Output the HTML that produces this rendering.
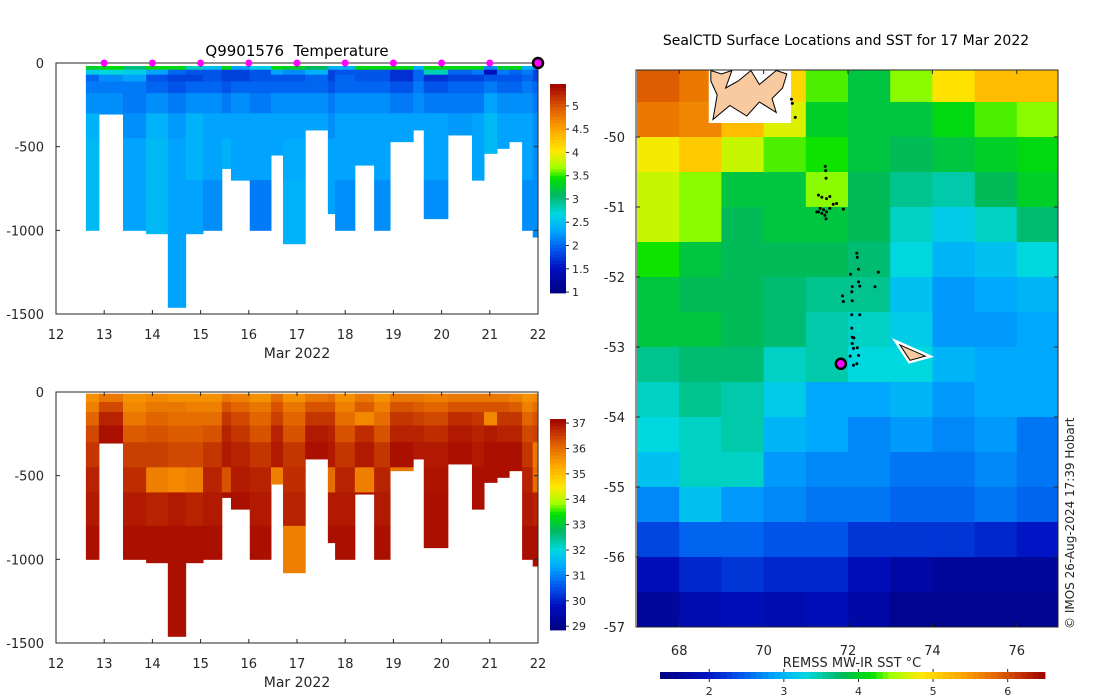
<!DOCTYPE html>
<html><head><meta charset="utf-8"><style>
html,body{margin:0;padding:0;background:#fff;}
svg{display:block;font-family:"DejaVu Sans","Liberation Sans",sans-serif;}
</style></head><body>
<svg id="fig" width="1100" height="700" viewBox="0 0 1100 700" xmlns="http://www.w3.org/2000/svg">
<defs>
<clipPath id="mapclip"><rect x="636" y="70" width="422" height="557"/></clipPath>
</defs>
<g id="topg"></g>
<g id="botg"></g>
<g id="mapg"></g>
<text x="297" y="56" font-size="15" text-anchor="middle">Q9901576&#160;&#160;Temperature</text>
<text x="297" y="358" font-size="14" text-anchor="middle" fill="#262626">Mar 2022</text>
<text x="297" y="687" font-size="14" text-anchor="middle" fill="#262626">Mar 2022</text>
<text x="846" y="45" font-size="14" text-anchor="middle">SealCTD Surface Locations and SST for 17 Mar 2022</text>
<text x="852" y="667" font-size="13" text-anchor="middle" fill="#262626">REMSS MW-IR SST °C</text>
<text transform="translate(1074,629) rotate(-90)" font-size="12" fill="#262626">© IMOS 26-Aug-2024 17:39 Hobart</text>
</svg>
<script>
// ---- profile data ----
const colEdges = [12.62,12.89,13.39,13.87,14.32,14.69,15.05,15.44,15.63,16.02,16.46,16.71,17.17,17.64,17.79,18.20,18.60,18.93,19.41,19.63,20.13,20.63,20.88,21.15,21.40,21.67,21.89,22.00];
const maxDepth = [1000,305,1000,1020,1460,1020,1000,630,700,1000,550,1080,400,900,1000,610,1000,470,400,930,430,700,540,510,470,1000,1040];
const tempLayers = [18,40,70,110,180,300,450,700];
const tempVals = [
[3.3,2.6,2.0,2.1,2.2,2.4,2.45,2.45],[3.4,2.7,2.2,2.1,2.2,2.2,2.3,2.3],[3.0,2.6,2.3,2.1,2.1,2.2,2.3,2.3],
[3.4,2.3,1.9,2.0,2.2,2.4,2.45,2.45],[3.4,2.0,1.8,1.9,2.1,2.25,2.3,2.3],[2.8,1.9,1.8,2.0,2.2,2.4,2.4,2.3],
[2.5,1.9,1.9,2.0,2.2,2.3,2.3,2.2],[3.4,1.8,1.8,1.9,2.1,2.3,2.4,2.4],[2.3,1.8,1.8,2.0,2.2,2.3,2.3,2.3],
[2.6,1.9,1.9,2.0,2.1,2.3,2.3,2.1],[3.4,2.3,1.9,2.0,2.2,2.3,2.3,2.3],[3.3,2.2,1.9,2.0,2.2,2.3,2.35,2.4],
[3.1,2.4,2.0,2.0,2.2,2.3,2.3,2.3],[2.4,1.8,1.8,1.9,2.1,2.2,2.3,2.3],[2.4,1.9,2.0,2.0,2.2,2.3,2.3,2.2],
[3.4,1.9,1.9,2.0,2.2,2.3,2.3,2.3],[3.4,1.9,1.9,2.0,2.2,2.3,2.3,2.2],[3.4,1.7,1.7,1.9,2.1,2.3,2.3,2.3],
[2.4,2.0,2.0,2.1,2.2,2.3,2.3,2.3],[3.4,2.8,1.7,1.9,2.1,2.3,2.3,2.2],[3.4,2.0,1.8,2.0,2.1,2.25,2.3,2.3],
[3.4,2.1,1.8,2.0,2.1,2.3,2.3,2.3],[2.2,1.5,1.9,2.1,2.3,2.45,2.45,2.45],[3.3,2.1,1.9,2.0,2.2,2.3,2.3,2.3],
[3.4,2.0,1.9,2.0,2.2,2.3,2.3,2.3],[2.4,2.1,2.0,2.1,2.2,2.3,2.3,2.2],[2.2,1.8,1.8,2.0,2.1,2.2,2.2,2.2]];
const salLayers = [10,60,120,200,300,450,600,800];
const salVals = [
[35.6,35.8,36.1,36.4,36.6,36.8,36.9,37.0],[35.9,36.4,36.8,37.0,37,37,37,37],[35.6,35.7,35.9,36.2,36.5,36.7,36.9,37.0],
[35.7,35.9,36.1,36.3,36.5,35.8,36.8,37.0],[35.6,35.9,36.0,36.2,36.4,35.7,36.9,37.0],[35.6,35.8,36.0,36.2,36.4,35.8,36.8,37.0],
[35.6,35.8,36.0,36.3,36.6,36.8,36.9,37.0],[35.9,36.3,36.6,36.8,36.9,36.3,37,37],[35.8,36.1,36.4,36.6,36.8,36.9,37.0,37.0],
[35.6,35.9,36.1,36.3,36.6,36.8,36.9,37.0],[36.0,36.3,36.5,36.8,36.9,35.8,37,37],[35.6,35.9,36.1,36.3,36.6,36.7,36.8,35.8],
[35.9,36.3,36.6,36.9,37,37,37,37],[36.0,36.3,36.6,36.8,36.9,36.0,36.9,37],[35.6,35.8,36.0,36.3,36.6,36.8,36.9,37.0],
[35.9,36.2,35.7,36.7,36.9,35.8,37,37],[35.6,35.8,36.0,36.3,36.6,36.8,36.9,37.0],[35.9,36.3,36.6,36.8,37,35.9,37,37],
[35.9,36.2,36.5,36.8,36.9,37,37,37],[35.8,36.1,36.4,36.7,36.9,36.95,37,37],[35.9,36.3,36.7,36.9,37,37,37,37],
[35.9,36.3,36.6,36.8,36.9,37,37,37],[35.9,36.3,35.7,36.9,37,37,37,37],[35.9,36.3,36.6,36.8,37,37,37,37],
[35.8,36.2,36.6,36.8,37,37,37,37],[35.6,35.8,36.1,36.4,36.6,36.8,36.9,37.0],[35.7,36.0,36.3,36.5,35.9,36.0,36.8,37.0]];
const surfaceDays = [13,14,15,16,17,18,19,20,21];
const xTicks = [12,13,14,15,16,17,18,19,20,21,22];
const yTicks = [0,-500,-1000,-1500];
const tempCbTicks = [1,1.5,2,2.5,3,3.5,4,4.5,5];
const salCbTicks = [29,30,31,32,33,34,35,36,37];
// ---- map data ----
const sstGrid = [
[5.9,5.7,5.3,5.0,4.3,3.9,4.4,4.9,5.2,5.2],
[5.7,5.6,5.2,4.7,4.0,3.9,3.9,4.1,4.3,4.4],
[4.8,5.1,4.6,4.3,4.2,3.9,3.8,3.9,4.0,4.1],
[4.6,4.4,3.9,3.9,4.4,3.8,3.6,3.5,3.8,4.0],
[4.6,4.4,3.8,3.9,3.9,3.8,3.4,3.2,3.4,3.7],
[4.2,3.9,3.8,3.8,3.8,3.7,3.3,3.0,3.1,3.3],
[3.9,3.8,3.8,3.7,3.6,3.6,3.1,2.8,2.9,3.0],
[3.9,3.9,3.8,3.7,3.5,3.4,3.2,2.8,2.8,2.9],
[3.6,3.7,3.7,3.4,3.5,3.3,3.3,3.0,2.9,2.9],
[3.4,3.6,3.5,3.2,2.9,2.9,3.0,2.8,2.9,2.9],
[3.3,3.4,3.5,3.0,2.9,2.7,2.8,2.7,2.8,2.6],
[3.1,3.4,3.4,2.8,2.7,2.7,2.6,2.6,2.7,2.6],
[2.7,3.1,2.8,2.7,2.6,2.6,2.5,2.5,2.6,2.5],
[2.3,2.5,2.5,2.4,2.4,2.2,2.2,2.2,2.1,2.0],
[1.9,2.1,2.2,2.1,2.1,1.9,1.7,1.6,1.6,1.6],
[1.6,1.8,1.9,1.8,1.9,1.7,1.5,1.5,1.5,1.5]];
const gridLon0 = 67, gridLat0 = -49, gridStepLon = 1, gridStepLat = 0.5;
const trackLon = [70.66,70.68,70.75,71.46,71.47,71.48,71.30,71.38,71.49,71.57,71.65,71.73,71.34,71.42,71.49,71.57,71.30,71.38,71.45,71.48,71.26,71.89,72.21,72.22,72.25,72.72,72.06,72.25,72.28,72.10,72.64,72.09,71.87,71.89,72.10,72.09,72.28,72.09,72.10,72.14,72.10,72.13,72.22,72.05,72.25,72.21,72.13];
const trackLat = [-49.46,-49.52,-49.72,-50.42,-50.48,-50.59,-50.83,-50.86,-50.88,-50.85,-50.96,-50.95,-51.02,-51.04,-51.07,-51.02,-51.07,-51.09,-51.12,-51.17,-51.07,-51.03,-51.66,-51.72,-51.89,-51.93,-51.96,-52.07,-52.13,-52.14,-52.14,-52.21,-52.27,-52.35,-52.34,-52.54,-52.54,-52.73,-52.86,-52.87,-52.95,-53.02,-53.01,-53.13,-53.12,-53.24,-53.26];
const currentLon = [71.83], currentLat = [-53.24];
const lonTicks = [68,70,72,74,76];
const latTicks = [-50,-51,-52,-53,-54,-55,-56,-57];
const sstCbTicks = [2,3,4,5,6];
const heardLon = [73.23,73.83,73.47], heardLat = [-52.97,-53.13,-53.19];
const kergLon = [68.75,69.0,69.25,69.1,69.4,69.7,69.9,70.3,70.55,70.45,70.2,70.3,69.9,69.6,69.2,68.8,68.9,68.75];
const kergLat = [-49.05,-49.1,-49.05,-49.3,-49.2,-49.05,-49.25,-49.05,-49.1,-49.3,-49.45,-49.65,-49.5,-49.7,-49.55,-49.75,-49.4,-49.2];

const NS = 'http://www.w3.org/2000/svg';
const stops = [[0,[0,0,127]],[0.12,[0,16,192]],[0.22,[0,96,240]],[0.3,[0,168,255]],[0.38,[0,216,224]],[0.47,[0,184,96]],[0.55,[0,224,0]],[0.6,[160,255,0]],[0.68,[255,232,0]],[0.78,[255,168,0]],[0.88,[224,96,0]],[1,[160,0,0]]];
function cmap(t){t=Math.max(0,Math.min(1,t));for(let i=1;i<stops.length;i++){if(t<=stops[i][0]){const a=stops[i-1],b=stops[i];const f=(t-a[0])/(b[0]-a[0]);const c=a[1].map((v,k)=>Math.round(v+(b[1][k]-v)*f));return `rgb(${c[0]},${c[1]},${c[2]})`;}}return 'rgb(160,0,0)';}
function el(tag,attrs,parent){const e=document.createElementNS(NS,tag);for(const k in attrs)e.setAttribute(k,attrs[k]);parent.appendChild(e);return e;}
function txt(s,attrs,parent){const e=el('text',attrs,parent);e.textContent=s;return e;}

function profilePanel(gid,y0,vals,layers,vmin,vmax,cbTicks,cbTop,cbBot,cbName){
  const g=document.getElementById(gid);
  const X0=56,X1=538,Y1=y0+251;
  const xs=d=>X0+(d-12)/10*(X1-X0);
  const ys=z=>y0+z/1500*(Y1-y0);
  for(let i=0;i<maxDepth.length;i++){
    for(let j=0;j<layers.length;j++){
      const za=layers[j], zb=Math.min(j+1<layers.length?layers[j+1]:1e9,maxDepth[i]);
      if(zb<=za)continue;
      const r=el('rect',{x:xs(colEdges[i]),y:ys(za),width:xs(colEdges[i+1])-xs(colEdges[i])+0.5,height:ys(zb)-ys(za)+0.5,fill:cmap((vals[i][j]-vmin)/(vmax-vmin))},g);
      
      
    }
  }
  el('path',{d:`M${X0} ${y0}H${X1}V${Y1}H${X0}Z`,fill:'none',stroke:'#262626','stroke-width':1},g);
  xTicks.forEach(d=>{const x=xs(d);el('line',{x1:x,x2:x,y1:Y1,y2:Y1-4,stroke:'#262626'},g);el('line',{x1:x,x2:x,y1:y0,y2:y0+4,stroke:'#262626'},g);
    const t=txt(String(d),{x:x,y:Y1+25,'font-size':13,'text-anchor':'middle',fill:'#262626'},g);
    
    });
  yTicks.forEach(v=>{const y=ys(-v);el('line',{x1:X0,x2:X0+4,y1:y,y2:y,stroke:'#262626'},g);el('line',{x1:X1,x2:X1-4,y1:y,y2:y,stroke:'#262626'},g);
    const t=txt(String(v),{x:44,y:y+5,'font-size':13,'text-anchor':'end',fill:'#262626'},g);
    
    });
  const cb=el('g',{},g);
  
  
  const n=64,h=(cbBot-cbTop)/n;
  for(let k=0;k<n;k++){el('rect',{x:550,y:cbBot-(k+1)*h,width:16,height:h+0.4,fill:cmap((k+0.5)/n)},cb);}
  cbTicks.forEach(v=>{const y=cbBot-(v-vmin)/(vmax-vmin)*(cbBot-cbTop);el('line',{x1:566,x2:569,y1:y,y2:y,stroke:'#262626'},cb);
    const t=txt(String(v),{x:572,y:y+4,'font-size':11,fill:'#262626'},cb);
    
    });
  return {xs,ys,g};
}
const topPanel=profilePanel('topg',63,tempVals,tempLayers,0.98,5.47,tempCbTicks,84,293,'temperature-colorbar');
profilePanel('botg',392,salVals,salLayers,28.85,37.16,salCbTicks,419,630,'salinity-colorbar');
surfaceDays.forEach(d=>{const c=el('circle',{cx:topPanel.xs(d),cy:63,r:3.5,fill:'#ff00ff'},topPanel.g);
  
  });
{const c=el('circle',{cx:topPanel.xs(22),cy:63,r:5,fill:'#ff00ff',stroke:'#000','stroke-width':2.5},topPanel.g);
 
 }

// ---- map ----
const mg=document.getElementById('mapg');
const MX0=636,MX1=1058,MY0=70,MY1=627;
const lonS=l=>637+(l-67)*42.2;
const latS=a=>137+(-50-a)*70;
const cells=el('g',{'clip-path':'url(#mapclip)'},mg);
const sMin=1.34,sMax=6.5;
for(let r=0;r<sstGrid.length;r++)for(let c=0;c<sstGrid[r].length;c++){
  const lo=gridLon0+c*gridStepLon, la=gridLat0-r*gridStepLat;
  const rc=el('rect',{x:lonS(lo),y:latS(la),width:lonS(lo+gridStepLon)-lonS(lo)+0.5,height:latS(la-gridStepLat)-latS(la)+0.5,fill:cmap((sstGrid[r][c]-sMin)/(sMax-sMin))},cells);
  
  
}
{const pts=kergLon.map((l,i)=>lonS(l)+','+latS(kergLat[i])).join(' ');
 el('rect',{x:lonS(68.7),y:70,width:lonS(70.65)-lonS(68.7),height:latS(-49.8)-70,fill:'#fff'},cells);
 const p=el('polygon',{points:pts,fill:'#f9c9a0',stroke:'#000','stroke-width':1},cells);
 
 }
{const pts=heardLon.map((l,i)=>lonS(l)+','+latS(heardLat[i])).join(' ');
 el('polygon',{points:pts,fill:'#fff',stroke:'#fff','stroke-width':6},cells);
 const p=el('polygon',{points:pts,fill:'#f9c9a0',stroke:'#000','stroke-width':1},cells);
 
 }
trackLon.forEach((l,i)=>{const c=el('circle',{cx:lonS(l),cy:latS(trackLat[i]),r:1.5,fill:'#000'},mg);
  
  });
currentLon.forEach((l,i)=>{const c=el('circle',{cx:lonS(l),cy:latS(currentLat[i]),r:5,fill:'#ff00ff',stroke:'#000','stroke-width':2.5},mg);
  
  });
el('rect',{x:MX0,y:MY0,width:MX1-MX0,height:MY1-MY0,fill:'none',stroke:'#262626'},mg);
lonTicks.forEach(l=>{const x=lonS(l);el('line',{x1:x,x2:x,y1:MY1,y2:MY1-4,stroke:'#262626'},mg);el('line',{x1:x,x2:x,y1:MY0,y2:MY0+4,stroke:'#262626'},mg);
  const t=txt(String(l),{x:x,y:655,'font-size':13,'text-anchor':'middle',fill:'#262626'},mg);
  
  });
latTicks.forEach(a=>{const y=latS(a);el('line',{x1:MX0,x2:MX0+4,y1:y,y2:y,stroke:'#262626'},mg);el('line',{x1:MX1,x2:MX1-4,y1:y,y2:y,stroke:'#262626'},mg);
  const t=txt(String(a),{x:625,y:y+5,'font-size':13,'text-anchor':'end',fill:'#262626'},mg);
  
  });
{const cb=el('g',{},mg);
 
 
 const n=64,cx0=660,cx1=1045,w=(cx1-cx0)/n;
 for(let k=0;k<n;k++)el('rect',{x:cx0+k*w,y:672,width:w+0.4,height:7,fill:cmap((k+0.5)/n)},cb);
 sstCbTicks.forEach(v=>{const x=cx0+(v-sMin)/(sMax-sMin)*(cx1-cx0);el('line',{x1:x,x2:x,y1:669,y2:672,stroke:'#262626'},cb);el('line',{x1:x,x2:x,y1:679,y2:682,stroke:'#262626'},cb);
   const t=txt(String(v),{x:x,y:695,'font-size':11,'text-anchor':'middle',fill:'#262626'},cb);
   
   });}
</script>
</body></html>
